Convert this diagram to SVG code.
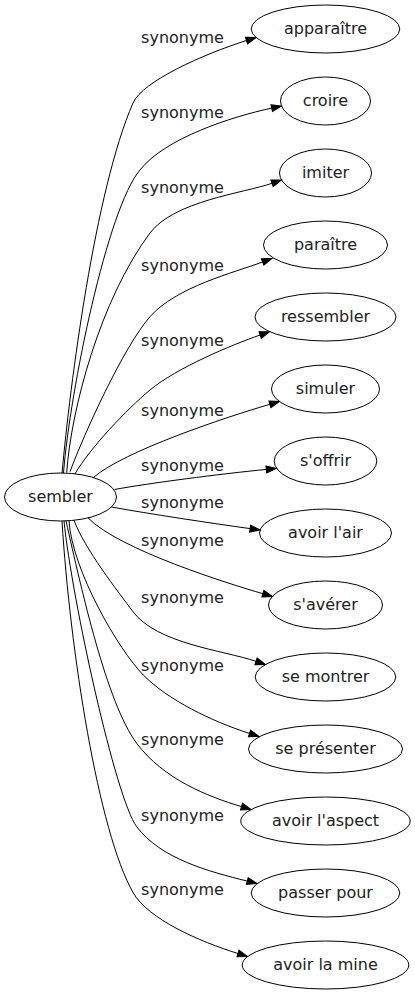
<svg xmlns="http://www.w3.org/2000/svg" width="415" height="995" viewBox="0 0 415 995">
<defs>
<marker id="ah" markerUnits="userSpaceOnUse" markerWidth="10" markerHeight="7" refX="0" refY="3.5" orient="auto" viewBox="0 0 10 7" overflow="visible"><path d="M0,0 L10,3.5 L0,7 z" fill="#000" stroke="#000" stroke-width="1"/></marker>
<style>
.n ellipse{fill:none;stroke:#000;stroke-width:1}
.n text{font-family:"DejaVu Sans",sans-serif;font-size:16px;fill:#222;text-anchor:middle}
.e path{fill:none;stroke:#000;stroke-width:1;marker-end:url(#ah)}
.e text{font-family:"DejaVu Sans",sans-serif;font-size:16px;fill:#222;text-anchor:middle}
</style>
</defs>
<rect width="415" height="995" fill="#fff"/>
<g id="edges" class="e">
<path d="M62,473.5 C70,385 95,190 133,103 C142.5,81.25 203.6,54.1 246.5,40.5"/>
<text x="182.5" y="42.5">synonyme</text>
<path d="M63.5,473 C70,390 107.5,208 140,170 C165,138 232.5,116.5 271.7,108.1"/>
<text x="182.5" y="118">synonyme</text>
<path d="M66.7,472.5 C71,410 100,300 150,233 C174,201 243.7,193.1 272,183.3"/>
<text x="182.5" y="193">synonyme</text>
<path d="M70,471.7 C84,434 123.6,346.7 150,316.7 C176.4,286.7 234.5,272.5 262.6,262"/>
<text x="182.5" y="271">synonyme</text>
<path d="M75,473.8 C90,448 126.9,409.2 150,390 C177,367.6 231.8,344.9 260.1,335"/>
<text x="182.5" y="346">synonyme</text>
<path d="M93.3,477.6 C123.3,451.2 226.7,416.9 269.9,404.3"/>
<text x="182.5" y="416">synonyme</text>
<path d="M114.5,489.5 C150,483 220,474 266.3,469.4"/>
<text x="182.5" y="471">synonyme</text>
<path d="M111.5,507 C150,514 210,523 250.1,528.6"/>
<text x="182.5" y="508">synonyme</text>
<path d="M88,517.9 C119.5,549.9 229.3,583.9 262.9,593.7"/>
<text x="182.5" y="546">synonyme</text>
<path d="M74,520.3 C84.5,548.5 118,591.7 133,611.7 C157,643.7 222.75,650.2 256,661.3"/>
<text x="182.5" y="603">synonyme</text>
<path d="M69,520.7 C72,570 118.8,650.2 143.3,675 C167.8,699.9 211.4,721.2 249.5,733.4"/>
<text x="182.5" y="671">synonyme</text>
<path d="M66,520.9 C81.4,589.2 106.7,703.3 136.7,743.3 C163.7,779.3 208,796.6 241.5,806.6"/>
<text x="182.5" y="745">synonyme</text>
<path d="M64,521 C72,600 115.7,798.7 136.7,826.7 C160.7,858.7 208.5,871.5 247.3,881.1"/>
<text x="182.5" y="821">synonyme</text>
<path d="M62,521.2 C70,650 98.3,832.1 133.3,893 C148.3,919.1 199.8,941.7 238,953.5"/>
<text x="182.5" y="895">synonyme</text>
</g>
<g id="sembler" class="n"><ellipse cx="60.5" cy="497" rx="56" ry="24"/><text x="60.5" y="502">sembler</text></g>
<g id="apparaitre" class="n"><ellipse cx="325.5" cy="29" rx="74.3" ry="24"/><text x="325.5" y="34">apparaître</text></g>
<g id="croire" class="n"><ellipse cx="325.5" cy="101" rx="45" ry="24"/><text x="325.5" y="106">croire</text></g>
<g id="imiter" class="n"><ellipse cx="325.5" cy="173" rx="46" ry="24"/><text x="325.5" y="178">imiter</text></g>
<g id="paraitre" class="n"><ellipse cx="325.5" cy="245" rx="62" ry="24"/><text x="325.5" y="250">paraître</text></g>
<g id="ressembler" class="n"><ellipse cx="325.5" cy="317" rx="70.5" ry="24"/><text x="325.5" y="322">ressembler</text></g>
<g id="simuler" class="n"><ellipse cx="325.5" cy="389" rx="54" ry="24"/><text x="325.5" y="394">simuler</text></g>
<g id="soffrir" class="n"><ellipse cx="325.5" cy="461" rx="51.3" ry="24"/><text x="325.5" y="466">s'offrir</text></g>
<g id="avoir-lair" class="n"><ellipse cx="325.5" cy="533" rx="66" ry="24"/><text x="325.5" y="538">avoir l'air</text></g>
<g id="saverer" class="n"><ellipse cx="325.5" cy="605" rx="57" ry="24"/><text x="325.5" y="610">s'avérer</text></g>
<g id="se-montrer" class="n"><ellipse cx="325.5" cy="677" rx="70.3" ry="24"/><text x="325.5" y="682">se montrer</text></g>
<g id="se-presenter" class="n"><ellipse cx="325.5" cy="749" rx="77" ry="24"/><text x="325.5" y="754">se présenter</text></g>
<g id="avoir-laspect" class="n"><ellipse cx="325.5" cy="821" rx="84.7" ry="24"/><text x="325.5" y="826">avoir l'aspect</text></g>
<g id="passer-pour" class="n"><ellipse cx="325.5" cy="893" rx="74.3" ry="24"/><text x="325.5" y="898">passer pour</text></g>
<g id="avoir-la-mine" class="n"><ellipse cx="325.5" cy="965" rx="83.3" ry="24"/><text x="325.5" y="970">avoir la mine</text></g>
</svg>
